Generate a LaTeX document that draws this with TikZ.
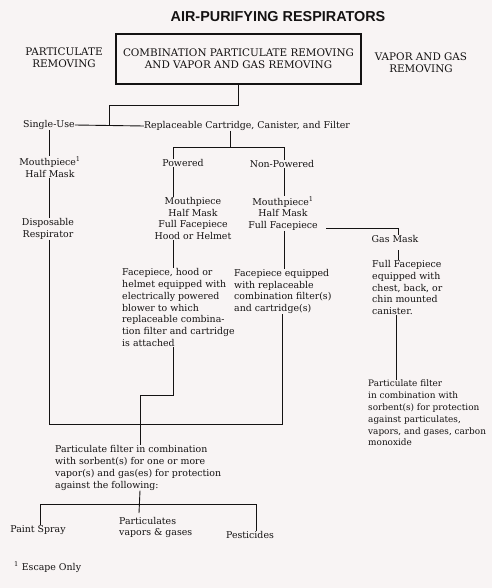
\documentclass[tikz,border=0pt]{standalone}
\usepackage{fontspec}
\setmainfont{DejaVu Serif}
\newfontfamily\titlefont{Liberation Sans}
\definecolor{paper}{RGB}{248,244,244}
\definecolor{ink}{RGB}{20,18,18}
\begin{document}
\begin{tikzpicture}[x=1pt,y=-1pt,
  txt/.style={inner sep=0pt,text=ink,font=\fontsize{9.4}{11.8}\selectfont},
  caps/.style={inner sep=0pt,text=ink,align=center,font=\fontsize{10.4}{12}\selectfont},
  ln/.style={draw=ink,line width=0.9pt}]
\fill[paper] (0,0) rectangle (492,588);
\useasboundingbox (0,0) rectangle (492,588);
% title
\node[inner sep=0pt,text=ink,font=\titlefont\bfseries\fontsize{14.4}{16}\selectfont] (title) at (278,17) {AIR-PURIFYING RESPIRATORS};
\node[caps] (pr) at (64,58) {PARTICULATE\\REMOVING};
\node[caps,draw=ink,line width=1.1pt,minimum width=245pt,minimum height=50pt] (box) at (238.5,59) {COMBINATION PARTICULATE REMOVING\\AND VAPOR AND GAS REMOVING};
\node[caps] (vg) at (421,63) {VAPOR AND GAS\\REMOVING};
% level 1
\node[txt] (single) at (49,125) {Single-Use};
\node[txt] (repl) at (247,126) {Replaceable Cartridge, Canister, and Filter};
\coordinate (j1) at (109,125.5);
\draw[ln] (single.east) -- (repl.west);
\draw[ln] (box.south) -- ++(0,21) -| (j1);
% powered / non-powered
\node[txt] (powered) at (183,163) {Powered};
\node[txt] (nonpow) at (282,164) {Non-Powered};
\coordinate (rp) at (230,147);
\coordinate (pl) at (173,147);
\coordinate (npl) at (284,147);
\draw[ln] (repl.south -| rp) -- (rp);
\draw[ln] (powered.north -| pl) -- (pl) -- (npl) -- (nonpow.north -| npl);
% left column
\node[txt,align=center] (mp1) at (50,167) {Mouthpiece\textsuperscript{1}\\Half Mask};
\node[txt,align=center] (disp) at (48,229) {Disposable\\Respirator};
\coordinate (lc) at (49,0);
\draw[ln] (single.south -| lc) -- (mp1.north -| lc);
\draw[ln] (mp1.south -| lc) -- (disp.north -| lc);
% powered column
\node[txt,align=center] (pmask) at (193,218.5) {Mouthpiece\\Half Mask\\Full Facepiece\\Hood or Helmet};
\node[txt,align=left,anchor=west] (pface) at (122,307.5) {Facepiece, hood or\\helmet equipped with\\electrically powered\\blower to which\\replaceable combina-\\tion filter and cartridge\\is attached};
\draw[ln] (powered.south -| pl) -- (pmask.north -| pl);
\draw[ln] (pmask.south -| pl) -- (pface.north -| pl);
% non-powered column
\node[txt,align=center] (npmask) at (283,213.5) {Mouthpiece\textsuperscript{1}\\Half Mask\\Full Facepiece};
\node[txt,align=left,anchor=west] (npface) at (234,291.5) {Facepiece equipped\\with replaceable\\combination filter(s)\\and cartridge(s)};
\draw[ln] (nonpow.south -| npl) -- (npmask.north -| npl);
\draw[ln] (npmask.south -| npl) -- (npface.north -| npl);
% gas mask
\node[txt] (gasmask) at (395,239) {Gas Mask};
\coordinate (gm) at (398,228);
\draw[ln] (326,228) -- (gm) -- (gasmask.north -| gm);
\node[txt,align=left,anchor=west] (gface) at (372,287.5) {Full Facepiece\\equipped with\\chest, back, or\\chin mounted\\canister.};
\draw[ln] (398,250) -- (gface.north -| gm);
\node[txt,align=left,anchor=west,font=\fontsize{8.9}{11.8}\selectfont] (gpart) at (368,413) {Particulate filter\\in combination with\\sorbent(s) for protection\\against particulates,\\vapors, and gases, carbon\\monoxide};
\coordinate (gc) at (396,0);
\draw[ln] (gface.south -| gc) -- (gpart.north -| gc);
% merge
\node[txt,align=left,anchor=west] (bot) at (55,468) {Particulate filter in combination\\with sorbent(s) for one or more\\vapor(s) and gas(es) for protection\\against the following:};
\coordinate (mb) at (140,0);
\draw[ln] (disp.south -| lc) |- (282,424) -- (npface.south -| 282,0);
\draw[ln] (pface.south -| pl) -- (173,395) -| (bot.north -| mb);
% bottom tree
\node[txt] (paint) at (38,530) {Paint Spray};
\node[txt,align=left,anchor=west] (part2) at (119,527.5) {Particulates\\vapors \& gases};
\node[txt] (pest) at (250,535) {Pesticides};
\coordinate (tl) at (40,504);
\coordinate (tr) at (256,504);
\draw[ln] (bot.south -| mb) -- (139,513);
\draw[ln] (paint.north -| tl) -- (tl) -- (tr) -- (pest.north -| tr);
% footnote
\node[txt,anchor=west] (foot) at (14,567) {\textsuperscript{1} Escape Only};
\end{tikzpicture}
\end{document}
